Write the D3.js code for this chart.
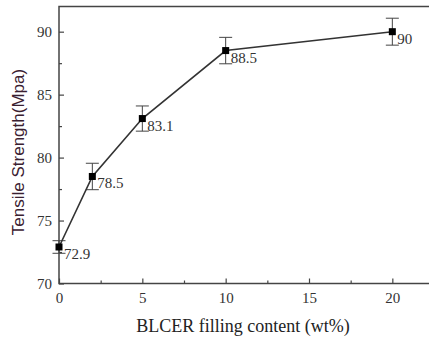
<!DOCTYPE html>
<html><head><meta charset="utf-8">
<script src="https://cdn.jsdelivr.net/npm/d3@7"></script>
<style>
body{margin:0;background:#fff}
svg{display:block}
svg text{font-family:"Times New Roman","Liberation Serif",serif}
svg text.ytitle{font-family:"Liberation Sans",Arial,sans-serif}
</style>
</head><body>
<script>
const xValues = [0, 2, 5, 10, 20];
const yValues = [72.9, 78.5, 83.1, 88.5, 90];
const errValues = [0.5, 1.05, 1.0, 1.05, 1.07];
const labels = ["72.9", "78.5", "83.1", "88.5", "90"];
const xTicks = [0, 5, 10, 15, 20];
const yTicks = [70, 75, 80, 85, 90];

const W = 429, H = 337;
const svg = d3.select("body").append("svg").attr("width", W).attr("height", H);
const x = d3.scaleLinear().domain([0, 22.5]).range([59, 434]);
const y = d3.scaleLinear().domain([70, 92]).range([283.5, 6.5]);

svg.append("rect").attr("x", 59).attr("y", 6.5).attr("width", 400).attr("height", 277)
  .attr("fill", "none").attr("stroke", "#444").attr("stroke-width", 1.5);

function styleAxis(sel) {
  sel.attr("font-family", null).attr("font-size", null);
  sel.select(".domain").remove();
  sel.selectAll("line").attr("stroke", "#444").attr("stroke-width", 1.2);
  sel.selectAll("text").attr("fill", "#333").style("font-size", "15px");
}

const xa = svg.append("g").attr("transform", "translate(0,283.5)")
  .call(d3.axisBottom(x).tickValues(xTicks).tickSizeInner(-5).tickSizeOuter(0).tickPadding(9));
styleAxis(xa);
const xm = svg.append("g").attr("transform", "translate(0,283.5)")
  .call(d3.axisBottom(x).tickValues([2.5, 7.5, 12.5, 17.5, 22.5]).tickSize(-3).tickFormat(""));
styleAxis(xm);

const ya = svg.append("g").attr("transform", "translate(59,0)")
  .call(d3.axisLeft(y).tickValues(yTicks).tickSizeInner(-5).tickSizeOuter(0).tickPadding(7));
styleAxis(ya);
const ym = svg.append("g").attr("transform", "translate(59,0)")
  .call(d3.axisLeft(y).tickValues([72.5, 77.5, 82.5, 87.5]).tickSize(-3).tickFormat(""));
styleAxis(ym);

const data = xValues.map((v, i) => ({x: v, y: yValues[i], e: errValues[i], l: labels[i]}));

const eb = svg.append("g").attr("stroke", "#444").attr("stroke-width", 1);
data.forEach(d => {
  eb.append("line").attr("x1", x(d.x)).attr("x2", x(d.x)).attr("y1", y(d.y + d.e)).attr("y2", y(d.y - d.e));
  [d.y + d.e, d.y - d.e].forEach(v => {
    eb.append("line").attr("x1", x(d.x) - 6.5).attr("x2", x(d.x) + 6.5).attr("y1", y(v)).attr("y2", y(v));
  });
});

svg.append("path").datum(data)
  .attr("d", d3.line().x(d => x(d.x)).y(d => y(d.y)))
  .attr("fill", "none").attr("stroke", "#333").attr("stroke-width", 1.6);

svg.append("g").selectAll("rect").data(data).join("rect")
  .attr("x", d => x(d.x) - 3.5).attr("y", d => y(d.y) - 3.5)
  .attr("width", 7).attr("height", 7).attr("fill", "#000");

svg.append("g").selectAll("text").data(data).join("text")
  .attr("x", d => x(d.x) + 5).attr("y", d => y(d.y) + 12)
  .style("font-size", "15px")
  .attr("fill", "#333")
  .text(d => d.l);

svg.append("text").attr("x", 243).attr("y", 332).attr("text-anchor", "middle")
  .style("font-size", "18px").attr("fill", "#222")
  .text("BLCER filling content (wt%)");
svg.append("text").attr("class", "ytitle").attr("transform", "translate(24,152) rotate(-90)").attr("text-anchor", "middle")
  .style("font-size", "17px").attr("fill", "#3a2030")
  .text("Tensile Strength(Mpa)");
</script>
</body></html>
